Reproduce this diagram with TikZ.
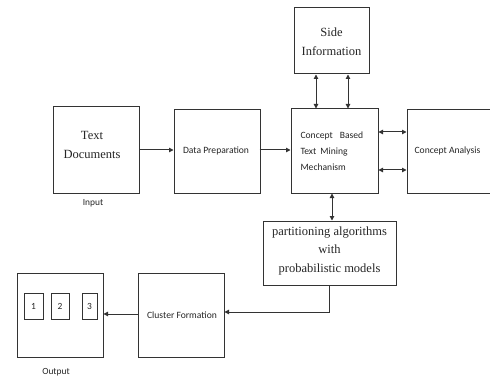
\documentclass[tikz,border=0pt]{standalone}
\usepackage{fontspec}
\setmainfont{Liberation Serif}
\newfontfamily\calfont{Carlito}
\usetikzlibrary{arrows.meta,calc}
\definecolor{ln}{HTML}{333333}
\tikzset{
  box/.style={draw=ln,line width=1pt,rectangle,inner sep=0pt,fill=white},
  serif/.style={font=\fontsize{12.5}{19}\selectfont,align=center,text=black!85},
  sans/.style={font=\calfont\fontsize{9.6}{16}\selectfont,text=black!85},
  small/.style={font=\calfont\fontsize{9.4}{10}\selectfont,text=black!85},
  arr/.style={draw=ln,line width=1pt,-{Triangle[length=4.5pt,width=4.5pt]}},
  darr/.style={draw=ln,line width=1pt,{Triangle[length=4.5pt,width=4.5pt]}-{Triangle[length=4.5pt,width=4.5pt]}},
}
\begin{document}
\begin{tikzpicture}[x=1pt,y=-1pt]
\useasboundingbox (0,0) rectangle (490,377);
\fill[white] (0,0) rectangle (490,377);
\begin{scope}
\clip (0,0) rectangle (490,377);
\node[box,minimum width=75pt,minimum height=66pt] (side) at (331.5,41) {};
\node[box,minimum width=86pt,minimum height=86pt] (textdoc) at (96,150) {};
\node[box,minimum width=86pt,minimum height=83pt] (dataprep) at (217,151.5) {};
\node[box,minimum width=87pt,minimum height=84pt] (concept) at (334.5,151) {};
\node[box,minimum width=95pt,minimum height=83pt] (analysis) at (454.5,151.5) {};
\node[box,minimum width=133pt,minimum height=64pt] (part) at (329.5,253) {};
\node[box,minimum width=86pt,minimum height=84pt] (cluster) at (181,315) {};
\node[box,minimum width=86pt,minimum height=84pt] (output) at (60,315) {};
\node[box,minimum width=19pt,minimum height=26pt] (b1) at (33.5,306) {};
\node[box,minimum width=18pt,minimum height=26pt] (b2) at (60,306) {};
\node[box,minimum width=15pt,minimum height=26pt] (b3) at (89.5,306) {};
\end{scope}
% texts
\node[serif] (tside) at (331.5,42) {Side\\Information};
\node[serif] (tdoc) at (92,145) {Text\\Documents};
\node[sans] (tdp) at (216,151) {Data Preparation};
\node[sans,align=left,anchor=west] (tcon) at (297,151) {Concept\hspace{7pt}Based\\Text\hspace{4pt}Mining\\Mechanism};
\node[sans] (tana) at (447.5,151) {Concept Analysis};
\node[serif,font=\fontsize{12.5}{18.5}\selectfont] (tpart) at (329.5,250.5) {partitioning algorithms\\with\\probabilistic models};
\node[sans] (tclu) at (182,315) {Cluster Formation};
\node[small] (n1) at (b1) {1};
\node[small] (n2) at (b2) {2};
\node[small] (n3) at (b3) {3};
\node[small] (lin) at (93,203) {Input};
\node[small] (lout) at (56,372) {Output};
% connectors
\draw[arr] (textdoc.east) -- (dataprep.west |- textdoc.east);
\draw[arr] (dataprep.west |- textdoc.east) ++(86,0) coordinate (dpe) -- (concept.west |- dpe);
\draw[darr] ([xshift=-15.5pt]side.south) -- ([xshift=-15.5pt]side.south |- concept.north);
\draw[darr] ([xshift=16.5pt]side.south) -- ([xshift=16.5pt]side.south |- concept.north);
\draw[darr] ([yshift=19pt]concept.east) -- ([yshift=19pt]concept.east -| analysis.west);
\draw[darr] ([yshift=-19pt]concept.east) -- ([yshift=-19pt]concept.east -| analysis.west);
\draw[darr] ([xshift=-2.5pt]concept.south) -- ([xshift=-2.5pt]concept.south |- part.north);
\draw[arr] (part.south) |- ([yshift=3pt]cluster.east);
\draw[arr] ([yshift=1pt]cluster.west) -- ([yshift=1pt]output.east);
\end{tikzpicture}
\end{document}
